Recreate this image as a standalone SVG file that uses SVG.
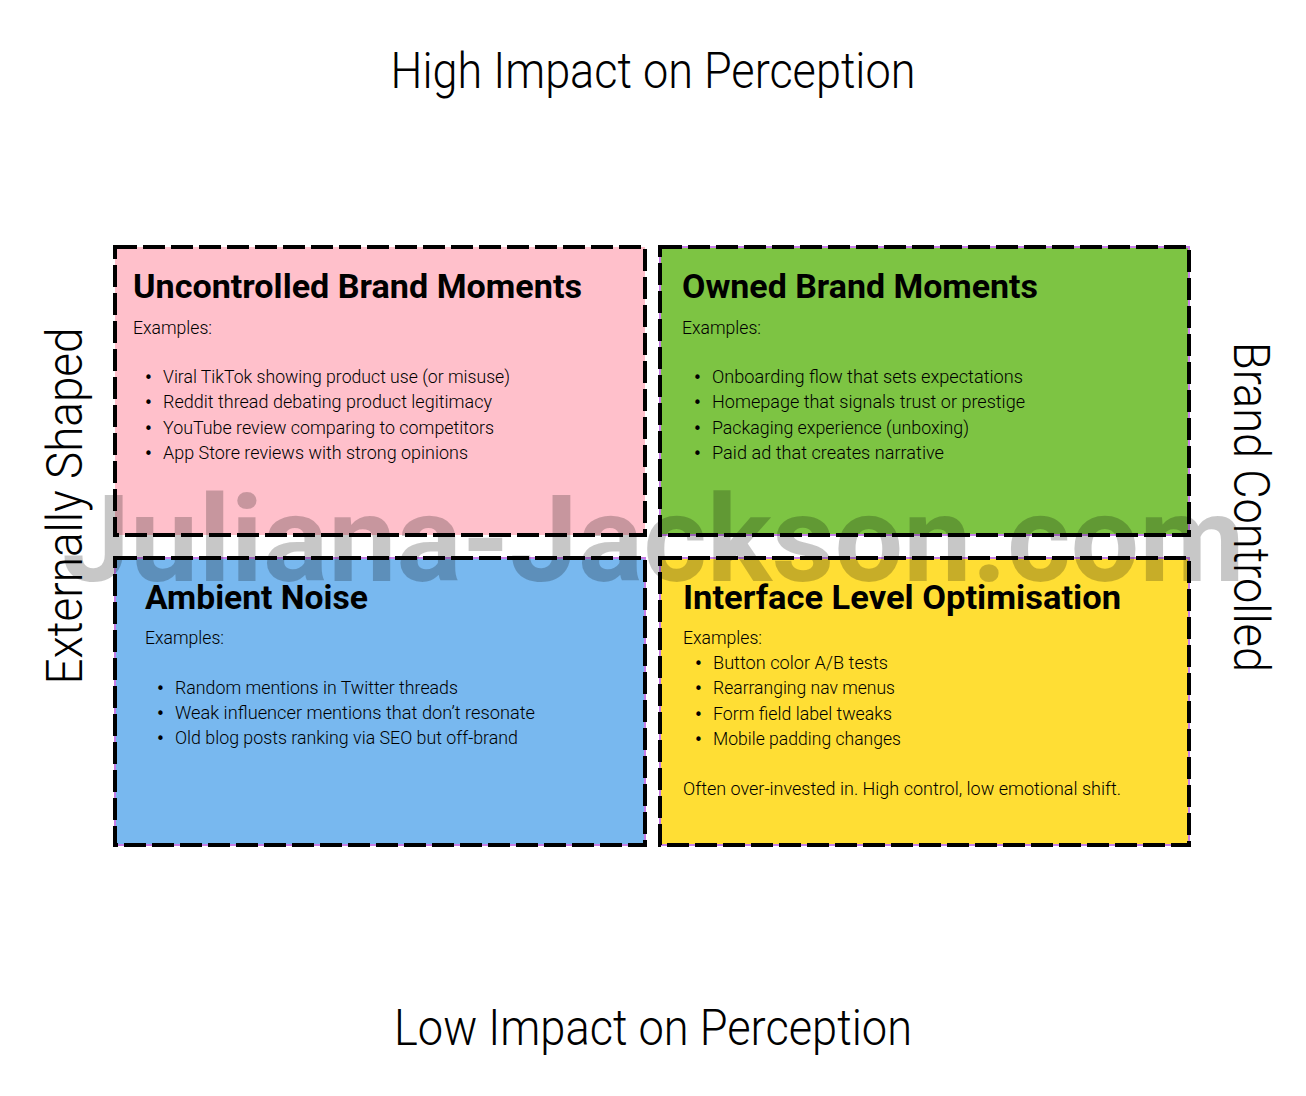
<svg xmlns="http://www.w3.org/2000/svg" width="1306" height="1096" viewBox="0 0 1306 1096">
<style>
.axis{font-family:Roboto,"Liberation Sans",sans-serif;font-weight:300;font-size:50px;fill:#000}
.title{font-family:Roboto,"Liberation Sans",sans-serif;font-weight:700;font-size:33px;fill:#000}
.body{font-family:Roboto,"Liberation Sans",sans-serif;font-weight:300;font-size:17.5px;fill:#000}
.bul{font-family:"DejaVu Sans",sans-serif;font-size:15px;fill:#000}
.dash{fill:none;stroke:#000;stroke-width:4;stroke-dasharray:22 6}
.under{fill:none;stroke:#c77ee8;stroke-width:2}
.wm{font-family:Roboto,"Liberation Sans",sans-serif;font-weight:700;font-size:120px;fill:#000;fill-opacity:0.22}
</style>
<rect width="1306" height="1096" fill="#fff"/>
<g id="axes">
<text class="axis" x="653" y="88" text-anchor="middle" textLength="525" lengthAdjust="spacingAndGlyphs">High Impact on Perception</text>
<text class="axis" x="653" y="1045" text-anchor="middle" textLength="518" lengthAdjust="spacingAndGlyphs">Low Impact on Perception</text>
<text class="axis" transform="translate(82,506) rotate(-90)" text-anchor="middle" textLength="357" lengthAdjust="spacingAndGlyphs">Externally Shaped</text>
<text class="axis" transform="translate(1234,507) rotate(90)" text-anchor="middle" textLength="330" lengthAdjust="spacingAndGlyphs">Brand Controlled</text>
</g>
<g id="q-uncontrolled">
<rect x="115" y="247" width="530" height="288" fill="#FFC0CB"/>
<rect class="dash" x="115" y="247" width="530" height="288"/>
<text class="title" x="133" y="298" textLength="449" lengthAdjust="spacingAndGlyphs">Uncontrolled Brand Moments</text>
<text class="body" x="133" y="334" textLength="79" lengthAdjust="spacingAndGlyphs">Examples:</text>
<text class="bul" x="144" y="383">•</text><text class="body" x="163" y="383" textLength="347" lengthAdjust="spacingAndGlyphs">Viral TikTok showing product use (or misuse)</text>
<text class="bul" x="144" y="408">•</text><text class="body" x="163" y="408" textLength="329" lengthAdjust="spacingAndGlyphs">Reddit thread debating product legitimacy</text>
<text class="bul" x="144" y="434">•</text><text class="body" x="163" y="434" textLength="331" lengthAdjust="spacingAndGlyphs">YouTube review comparing to competitors</text>
<text class="bul" x="144" y="459">•</text><text class="body" x="163" y="459" textLength="305" lengthAdjust="spacingAndGlyphs">App Store reviews with strong opinions</text>
</g>
<g id="q-owned">
<rect x="660" y="247" width="529" height="288" fill="#7DC443"/>
<rect class="under" x="660" y="247" width="529" height="288"/>
<rect class="dash" x="660" y="247" width="529" height="288"/>
<text class="title" x="682" y="298" textLength="356" lengthAdjust="spacingAndGlyphs">Owned Brand Moments</text>
<text class="body" x="682" y="334" textLength="79" lengthAdjust="spacingAndGlyphs">Examples:</text>
<text class="bul" x="693" y="383">•</text><text class="body" x="712" y="383" textLength="311" lengthAdjust="spacingAndGlyphs">Onboarding flow that sets expectations</text>
<text class="bul" x="693" y="408">•</text><text class="body" x="712" y="408" textLength="313" lengthAdjust="spacingAndGlyphs">Homepage that signals trust or prestige</text>
<text class="bul" x="693" y="434">•</text><text class="body" x="712" y="434" textLength="257" lengthAdjust="spacingAndGlyphs">Packaging experience (unboxing)</text>
<text class="bul" x="693" y="459">•</text><text class="body" x="712" y="459" textLength="232" lengthAdjust="spacingAndGlyphs">Paid ad that creates narrative</text>
</g>
<g id="q-ambient">
<rect x="115" y="558" width="530" height="287" fill="#78B8EF"/>
<rect class="under" x="115" y="558" width="530" height="287"/>
<rect class="dash" x="115" y="558" width="530" height="287"/>
<text class="title" x="145" y="609" textLength="223" lengthAdjust="spacingAndGlyphs">Ambient Noise</text>
<text class="body" x="145" y="644" textLength="79" lengthAdjust="spacingAndGlyphs">Examples:</text>
<text class="bul" x="156" y="694">•</text><text class="body" x="175" y="694" textLength="283" lengthAdjust="spacingAndGlyphs">Random mentions in Twitter threads</text>
<text class="bul" x="156" y="719">•</text><text class="body" x="175" y="719" textLength="360" lengthAdjust="spacingAndGlyphs">Weak influencer mentions that don’t resonate</text>
<text class="bul" x="156" y="744">•</text><text class="body" x="175" y="744" textLength="343" lengthAdjust="spacingAndGlyphs">Old blog posts ranking via SEO but off-brand</text>
</g>
<g id="q-interface">
<rect x="660" y="558" width="529" height="287" fill="#FFDE34"/>
<rect class="under" x="660" y="558" width="529" height="287"/>
<rect class="dash" x="660" y="558" width="529" height="287"/>
<text class="title" x="683" y="609" textLength="438" lengthAdjust="spacingAndGlyphs">Interface Level Optimisation</text>
<text class="body" x="683" y="644" textLength="79" lengthAdjust="spacingAndGlyphs">Examples:</text>
<text class="bul" x="694" y="669">•</text><text class="body" x="713" y="669" textLength="175" lengthAdjust="spacingAndGlyphs">Button color A/B tests</text>
<text class="bul" x="694" y="694">•</text><text class="body" x="713" y="694" textLength="182" lengthAdjust="spacingAndGlyphs">Rearranging nav menus</text>
<text class="bul" x="694" y="720">•</text><text class="body" x="713" y="720" textLength="179" lengthAdjust="spacingAndGlyphs">Form field label tweaks</text>
<text class="bul" x="694" y="745">•</text><text class="body" x="713" y="745" textLength="188" lengthAdjust="spacingAndGlyphs">Mobile padding changes</text>
<text class="body" x="683" y="795" textLength="438" lengthAdjust="spacingAndGlyphs">Often over-invested in. High control, low emotional shift.</text>
</g>
<g id="connectors"></g>
<g id="watermark">
<text class="wm" x="62" y="581" textLength="1183" lengthAdjust="spacingAndGlyphs">Juliana-Jackson.com</text>
</g>
</svg>
